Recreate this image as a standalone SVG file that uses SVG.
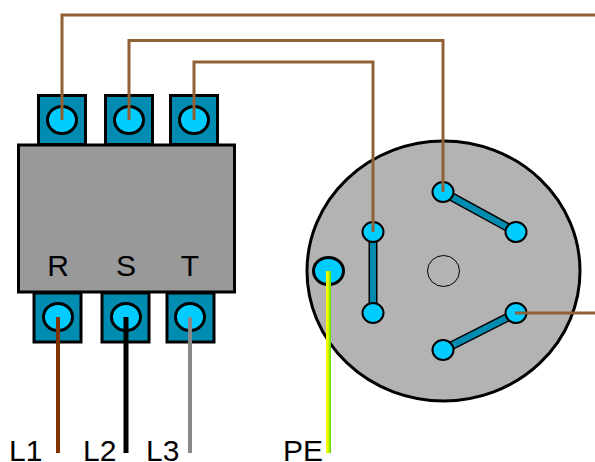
<svg xmlns="http://www.w3.org/2000/svg" width="595" height="462" viewBox="0 0 595 462">
<defs>
<linearGradient id="pe" x1="0" y1="0" x2="1" y2="0"><stop offset="0" stop-color="#ffff00"/><stop offset="0.4" stop-color="#e6f500"/><stop offset="1" stop-color="#55dd00"/></linearGradient>
</defs>
<style>
.term{fill:#008cb0;stroke:#000;stroke-width:3}
.screw{fill:#00ccff;stroke:#000;stroke-width:3}
.pin{fill:#00ccff;stroke:#000;stroke-width:2}
.bar{stroke:#000;stroke-width:9;stroke-linecap:butt;fill:none}
.barf{stroke:#008cb0;stroke-width:6;fill:none}
.brown{fill:none;stroke:#916136;stroke-width:3}
.lbl{font-family:"Liberation Sans",Arial,sans-serif;font-size:30px;fill:#000}
.m{text-anchor:middle}
</style>
<g id="terminal-top-1"><rect class="term" x="38.500" y="95.500" width="47" height="49"/><ellipse class="screw" cx="62" cy="120" rx="14.500" ry="13.500"/></g>
<g id="terminal-top-2"><rect class="term" x="105.500" y="95.500" width="47" height="49"/><ellipse class="screw" cx="129" cy="120" rx="14.500" ry="13.500"/></g>
<g id="terminal-top-3"><rect class="term" x="170.500" y="95.500" width="47" height="49"/><ellipse class="screw" cx="194" cy="120" rx="14.500" ry="13.500"/></g>
<g id="contactor"><rect x="18.500" y="145" width="216" height="147" fill="#999" stroke="#000" stroke-width="3"/>
<text class="lbl m" x="58" y="276">R</text><text class="lbl m" x="126" y="276">S</text><text class="lbl m" x="190" y="276">T</text></g>
<g id="terminal-bottom-1"><rect class="term" x="34" y="293" width="47" height="49"/><ellipse class="screw" cx="58" cy="317" rx="14.500" ry="13.500"/></g>
<g id="terminal-bottom-2"><rect class="term" x="102" y="293" width="47" height="49"/><ellipse class="screw" cx="126" cy="317" rx="14.500" ry="13.500"/></g>
<g id="terminal-bottom-3"><rect class="term" x="167" y="293" width="47" height="49"/><ellipse class="screw" cx="190" cy="317" rx="14.500" ry="13.500"/></g>
<g id="motor">
<ellipse cx="443.500" cy="271" rx="136.500" ry="130" fill="#b3b3b3" stroke="#000" stroke-width="3"/>
<ellipse cx="443.500" cy="271" rx="16" ry="15.500" fill="none" stroke="#000" stroke-width="1"/>
<path class="bar" d="M443 192L516 232M373 232V313M516 313L443 350"/>
<path class="barf" d="M443 192L516 232M373 232V313M516 313L443 350"/>
<ellipse class="pin" cx="443" cy="192" rx="10.500" ry="10"/>
<ellipse class="pin" cx="516" cy="232" rx="10.500" ry="10"/>
<ellipse class="pin" cx="373" cy="232" rx="10.500" ry="10"/>
<ellipse class="pin" cx="373" cy="313" rx="10.500" ry="10"/>
<ellipse class="pin" cx="516" cy="313" rx="10.500" ry="10"/>
<ellipse class="pin" cx="443" cy="350" rx="10.500" ry="10"/>
<ellipse class="screw" cx="328.500" cy="271" rx="15" ry="13.500"/>
</g>
<g id="connectors">
<path class="brown" d="M62 120V15H595"/>
<path class="brown" d="M129 120V40.500H443V192"/>
<path class="brown" d="M194 120V62H373V232"/>
<path class="brown" d="M515 313H595"/>
<path d="M58 317V453" fill="none" stroke="#803300" stroke-width="4"/>
<path d="M126 317V453" fill="none" stroke="#000" stroke-width="5"/>
<path d="M190 317V453" fill="none" stroke="#888" stroke-width="4"/>
<rect x="326" y="271" width="5" height="182" fill="url(#pe)"/>
</g>
<g id="labels">
<text class="lbl" x="9" y="460.500">L1</text>
<text class="lbl" x="83" y="460.500">L2</text>
<text class="lbl" x="146" y="460.500">L3</text>
<text class="lbl" x="283" y="460.500">PE</text>
</g>
</svg>
